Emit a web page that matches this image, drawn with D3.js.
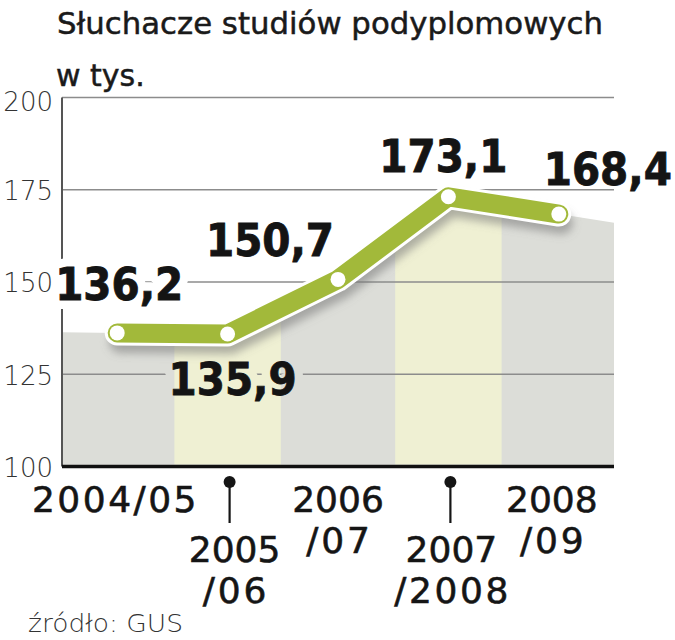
<!DOCTYPE html>
<html><head><meta charset="utf-8">
<script src="https://cdn.jsdelivr.net/npm/d3@7"></script>
<style>body{margin:0;background:#fff} svg{display:block}</style>
</head><body>
<script>
const categories = ["2004/05","2005/06","2006/07","2007/08","2008/09"];
const values = [136.2,135.9,150.7,173.1,168.4];
const valueLabels = ["136,2","135,9","150,7","173,1","168,4"];
const yTicks = [100,125,150,175,200];
const xLabelLines = [["2004/05"],["2005","/06"],["2006","/07"],["2007","/2008"],["2008","/09"]];
const markedCategories = ["2005/06","2007/08"];
const titleLines = ["Słuchacze studiów podyplomowych","w tys."];
const sourceText = "źródło: GUS";

const W=675,H=640;
const svg=d3.select("body").append("svg").attr("width",W).attr("height",H);
const x=d3.scaleBand().domain(categories).range([62,614]).padding(0);
const y=d3.scaleLinear().domain([100,200]).range([466.5,97.5]);
const cx=c=>x(c)+x.bandwidth()/2;
const [x0,x1]=x.range();

const pts=categories.map((c,i)=>[cx(c),y(values[i])]);
const n=values.length;
const leftV=values[0]-(values[1]-values[0])/2;
const rightV=values[n-1]+(values[n-1]-values[n-2])/2;
const areaPts=[[x0,y(leftV)],...pts,[x1,y(rightV)]];

const defs=svg.append("defs");
const area=d3.area().x(d=>d[0]).y0(y(100)).y1(d=>d[1]);
defs.append("clipPath").attr("id","areaClip").append("path").attr("d",area(areaPts));
defs.append("filter").attr("id","blur").attr("x","-20%").attr("y","-50%").attr("width","140%").attr("height","200%")
  .append("feGaussianBlur").attr("stdDeviation",4);

// label layout (offsets relative to data point)
const labelOffsets=[[2,-33],[5,61],[-68,-23],[-5,-25],[49,-29]];
const labelMasks=[true,true,true,true,false];
const labelFont={family:"'DejaVu Sans Condensed', 'DejaVu Sans', sans-serif",size:45};

function styleLabel(sel){
  return sel.attr("text-anchor","middle").attr("font-family",labelFont.family).attr("font-weight","bold")
    .attr("font-size",labelFont.size).attr("font-stretch","condensed");
}

// mask for gridlines
const mask=defs.append("mask").attr("id","gridMask").attr("maskUnits","userSpaceOnUse")
  .attr("x",0).attr("y",0).attr("width",W).attr("height",H);
mask.append("rect").attr("width",W).attr("height",H).attr("fill","#fff");
categories.forEach((c,i)=>{
  if(!labelMasks[i])return;
  styleLabel(mask.append("text").attr("x",cx(c)+labelOffsets[i][0]).attr("y",y(values[i])+labelOffsets[i][1]))
    .attr("fill","#000").attr("stroke","#000").attr("stroke-width",18).attr("stroke-linejoin","round")
    .text(valueLabels[i]);
});

// gray area
svg.append("path").attr("d",area(areaPts)).attr("fill","#dcddd8");
// yellow bands
svg.append("g").attr("clip-path","url(#areaClip)").selectAll("rect").data(markedCategories).join("rect")
  .attr("x",c=>x(c)+2).attr("y",y(200)).attr("width",x.bandwidth()-4).attr("height",y(100)-y(200)-2)
  .attr("fill","#eff0d3");

// gridlines + y axis line
const grid=svg.append("g").attr("mask","url(#gridMask)");
grid.selectAll("line.g").data(yTicks.filter(v=>v>100)).join("line").attr("class","g")
  .attr("x1",x0).attr("x2",x1).attr("y1",d=>y(d)).attr("y2",d=>y(d))
  .attr("stroke","#8c8c8c").attr("stroke-width",1.6);
grid.append("line").attr("x1",x0).attr("x2",x0).attr("y1",y(200)).attr("y2",y(100))
  .attr("stroke","#555").attr("stroke-width",2);
// bottom axis
svg.append("line").attr("x1",x0).attr("x2",x1).attr("y1",y(100)).attr("y2",y(100))
  .attr("stroke","#111").attr("stroke-width",3.5);

// y tick labels
svg.append("g").selectAll("text").data(yTicks).join("text")
  .attr("x",53).attr("y",d=>y(d)+(d===200?4:1)).attr("dy","0.36em").attr("text-anchor","end")
  .attr("font-family","'DejaVu Sans', sans-serif").attr("font-weight",200).attr("font-size",26)
  .attr("fill","#333").text(d=>d);

// line
const line=d3.line();
svg.append("path").attr("d",line(pts)).attr("transform","translate(3,9)")
  .attr("fill","none").attr("stroke","#777").attr("stroke-opacity",0.55).attr("stroke-width",22)
  .attr("stroke-linecap","round").attr("stroke-linejoin","round").attr("filter","url(#blur)");
svg.append("path").attr("d",line(pts)).attr("fill","none").attr("stroke","#fff").attr("stroke-width",25)
  .attr("stroke-linecap","round").attr("stroke-linejoin","round");
svg.append("path").attr("d",line(pts)).attr("fill","none").attr("stroke","#a2b93a").attr("stroke-width",19)
  .attr("stroke-linecap","round").attr("stroke-linejoin","round");
svg.append("g").selectAll("circle").data(pts).join("circle")
  .attr("cx",d=>d[0]).attr("cy",d=>d[1]).attr("r",7.5).attr("fill","#fff");

// value labels
styleLabel(svg.append("g").selectAll("text").data(categories).join("text")
  .attr("x",(c,i)=>cx(c)+labelOffsets[i][0]).attr("y",(c,i)=>y(values[i])+labelOffsets[i][1]))
  .attr("fill","#141414").attr("stroke","#141414").attr("stroke-width",0.8)
  .text((c,i)=>valueLabels[i]);

// x labels
const xLabelPos=[[-3,512],[7,562],[0,512],[3,562],[-7,512]];
const xLineGap=41;
const xFont="'DejaVu Sans', sans-serif";
categories.forEach((c,i)=>{
  xLabelLines[i].forEach((t,j)=>{
    const el=svg.append("text").attr("x",cx(c)+xLabelPos[i][0]).attr("y",xLabelPos[i][1]+j*xLineGap)
      .attr("text-anchor","middle").attr("font-family",xFont).attr("font-size",36)
      .attr("fill","#151515").attr("stroke","#151515").attr("stroke-width",0.6).text(t);
    if(t.includes("/")){
      const len=el.node().getComputedTextLength();
      el.attr("textLength",len*1.1).attr("lengthAdjust","spacing");
    }
  });
});
// markers
const mk=svg.append("g").selectAll("g").data(markedCategories).join("g");
mk.append("line").attr("x1",c=>cx(c)+2).attr("x2",c=>cx(c)+2).attr("y1",482).attr("y2",523)
  .attr("stroke","#151515").attr("stroke-width",2.2);
mk.append("circle").attr("cx",c=>cx(c)+2).attr("cy",482).attr("r",6).attr("fill","#151515");

// title
svg.append("text").attr("x",57).attr("y",34).attr("font-family","'DejaVu Sans', sans-serif")
  .attr("font-size",30).attr("fill","#1a1a1a").attr("stroke","#1a1a1a").attr("stroke-width",0.5)
  .attr("textLength",546).attr("lengthAdjust","spacingAndGlyphs").text(titleLines[0]);
svg.append("text").attr("x",56).attr("y",86).attr("font-family","'DejaVu Sans', sans-serif")
  .attr("font-size",30).attr("fill","#1a1a1a").attr("stroke","#1a1a1a").attr("stroke-width",0.5).text(titleLines[1]);
// source
svg.append("text").attr("x",28).attr("y",632).attr("font-family","'DejaVu Sans', sans-serif").attr("font-weight",200)
  .attr("font-size",25).attr("fill","#333").attr("textLength",155).attr("lengthAdjust","spacingAndGlyphs").text(sourceText);
</script>
</body></html>
